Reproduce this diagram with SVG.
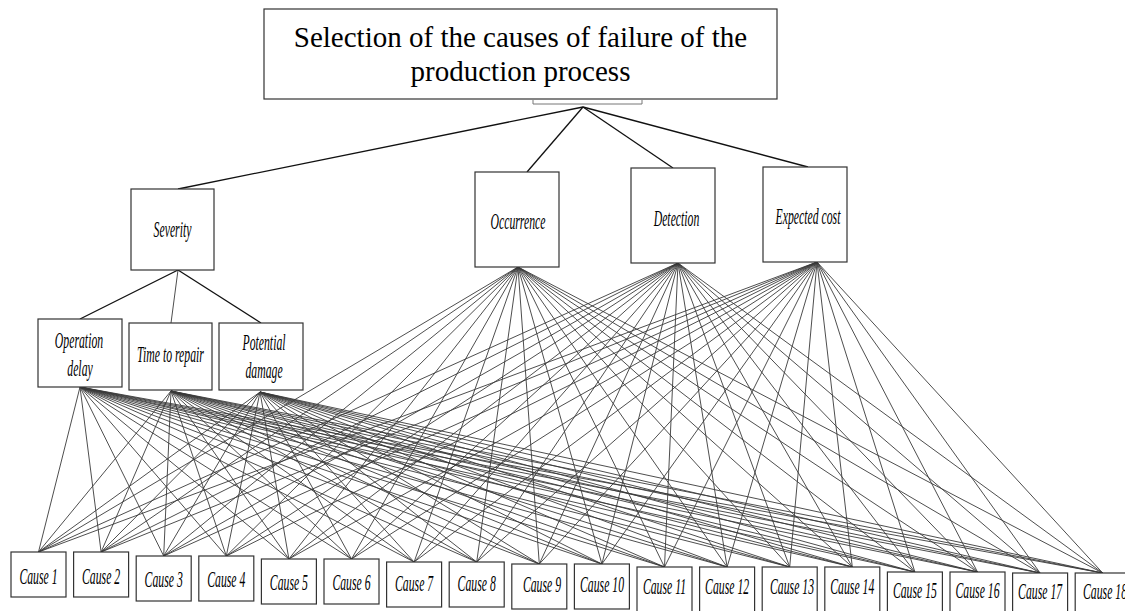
<svg xmlns="http://www.w3.org/2000/svg" width="1125" height="611" viewBox="0 0 1125 611">
<style>
.box{fill:#fff;stroke:#333;stroke-width:1.2}
.it{font-family:"Liberation Serif","Times New Roman",serif;font-style:italic;font-size:24px;fill:#000;text-anchor:middle}
.title{font-family:"Liberation Serif","Times New Roman",serif;font-size:29px;fill:#000;text-anchor:middle}
.e{stroke:#3a3a3a;stroke-width:0.9;fill:none}
.k{stroke:#111;stroke-width:1.3;fill:none}
</style>
<rect width="1125" height="611" fill="#fff"/>
<g id="connectors">
<polyline points="533,100 533,104 642,104 642,100" fill="none" stroke="#777" stroke-width="1"/>
<line class="k" x1="583" y1="107" x2="178" y2="189"/>
<line class="k" x1="583" y1="107" x2="527" y2="172"/>
<line class="k" x1="583" y1="107" x2="673" y2="168"/>
<line class="k" x1="583" y1="107" x2="808" y2="167"/>
<line class="k" x1="178" y1="270" x2="80" y2="319"/>
<line class="e" x1="178" y1="270" x2="171" y2="323"/>
<line class="k" x1="178" y1="270" x2="261" y2="323"/>
<g id="edges-operation-delay">
<line class="e" x1="80" y1="387" x2="38.5" y2="552"/>
<line class="e" x1="80" y1="387" x2="101.1" y2="552"/>
<line class="e" x1="80" y1="387" x2="163.7" y2="556"/>
<line class="e" x1="80" y1="387" x2="226.3" y2="556"/>
<line class="e" x1="80" y1="387" x2="288.9" y2="559"/>
<line class="e" x1="80" y1="387" x2="351.5" y2="559"/>
<line class="e" x1="80" y1="387" x2="414.1" y2="562"/>
<line class="e" x1="80" y1="387" x2="476.7" y2="562"/>
<line class="e" x1="80" y1="387" x2="539.3" y2="564"/>
<line class="e" x1="80" y1="387" x2="601.9" y2="564"/>
<line class="e" x1="80" y1="387" x2="664.5" y2="567"/>
<line class="e" x1="80" y1="387" x2="727.1" y2="567"/>
<line class="e" x1="80" y1="387" x2="789.7" y2="567"/>
<line class="e" x1="80" y1="387" x2="852.3" y2="567"/>
<line class="e" x1="80" y1="387" x2="914.9" y2="572"/>
<line class="e" x1="80" y1="387" x2="977.5" y2="572"/>
<line class="e" x1="80" y1="387" x2="1040.1" y2="573"/>
<line class="e" x1="80" y1="387" x2="1102.7" y2="573"/>
</g>
<g id="edges-time-to-repair">
<line class="e" x1="171" y1="391" x2="38.5" y2="552"/>
<line class="e" x1="171" y1="391" x2="101.1" y2="552"/>
<line class="e" x1="171" y1="391" x2="163.7" y2="556"/>
<line class="e" x1="171" y1="391" x2="226.3" y2="556"/>
<line class="e" x1="171" y1="391" x2="288.9" y2="559"/>
<line class="e" x1="171" y1="391" x2="351.5" y2="559"/>
<line class="e" x1="171" y1="391" x2="414.1" y2="562"/>
<line class="e" x1="171" y1="391" x2="476.7" y2="562"/>
<line class="e" x1="171" y1="391" x2="539.3" y2="564"/>
<line class="e" x1="171" y1="391" x2="601.9" y2="564"/>
<line class="e" x1="171" y1="391" x2="664.5" y2="567"/>
<line class="e" x1="171" y1="391" x2="727.1" y2="567"/>
<line class="e" x1="171" y1="391" x2="789.7" y2="567"/>
<line class="e" x1="171" y1="391" x2="852.3" y2="567"/>
<line class="e" x1="171" y1="391" x2="914.9" y2="572"/>
<line class="e" x1="171" y1="391" x2="977.5" y2="572"/>
<line class="e" x1="171" y1="391" x2="1040.1" y2="573"/>
<line class="e" x1="171" y1="391" x2="1102.7" y2="573"/>
</g>
<g id="edges-potential-damage">
<line class="e" x1="260" y1="392" x2="38.5" y2="552"/>
<line class="e" x1="260" y1="392" x2="101.1" y2="552"/>
<line class="e" x1="260" y1="392" x2="163.7" y2="556"/>
<line class="e" x1="260" y1="392" x2="226.3" y2="556"/>
<line class="e" x1="260" y1="392" x2="288.9" y2="559"/>
<line class="e" x1="260" y1="392" x2="351.5" y2="559"/>
<line class="e" x1="260" y1="392" x2="414.1" y2="562"/>
<line class="e" x1="260" y1="392" x2="476.7" y2="562"/>
<line class="e" x1="260" y1="392" x2="539.3" y2="564"/>
<line class="e" x1="260" y1="392" x2="601.9" y2="564"/>
<line class="e" x1="260" y1="392" x2="664.5" y2="567"/>
<line class="e" x1="260" y1="392" x2="727.1" y2="567"/>
<line class="e" x1="260" y1="392" x2="789.7" y2="567"/>
<line class="e" x1="260" y1="392" x2="852.3" y2="567"/>
<line class="e" x1="260" y1="392" x2="914.9" y2="572"/>
<line class="e" x1="260" y1="392" x2="977.5" y2="572"/>
<line class="e" x1="260" y1="392" x2="1040.1" y2="573"/>
<line class="e" x1="260" y1="392" x2="1102.7" y2="573"/>
</g>
<g id="edges-occurrence">
<line class="e" x1="518" y1="267" x2="38.5" y2="552"/>
<line class="e" x1="518" y1="267" x2="101.1" y2="552"/>
<line class="e" x1="518" y1="267" x2="163.7" y2="556"/>
<line class="e" x1="518" y1="267" x2="226.3" y2="556"/>
<line class="e" x1="518" y1="267" x2="288.9" y2="559"/>
<line class="e" x1="518" y1="267" x2="351.5" y2="559"/>
<line class="e" x1="518" y1="267" x2="414.1" y2="562"/>
<line class="e" x1="518" y1="267" x2="476.7" y2="562"/>
<line class="e" x1="518" y1="267" x2="539.3" y2="564"/>
<line class="e" x1="518" y1="267" x2="601.9" y2="564"/>
<line class="e" x1="518" y1="267" x2="664.5" y2="567"/>
<line class="e" x1="518" y1="267" x2="727.1" y2="567"/>
<line class="e" x1="518" y1="267" x2="789.7" y2="567"/>
<line class="e" x1="518" y1="267" x2="852.3" y2="567"/>
<line class="e" x1="518" y1="267" x2="914.9" y2="572"/>
<line class="e" x1="518" y1="267" x2="977.5" y2="572"/>
<line class="e" x1="518" y1="267" x2="1040.1" y2="573"/>
<line class="e" x1="518" y1="267" x2="1102.7" y2="573"/>
</g>
<g id="edges-detection">
<line class="e" x1="678" y1="263" x2="38.5" y2="552"/>
<line class="e" x1="678" y1="263" x2="101.1" y2="552"/>
<line class="e" x1="678" y1="263" x2="163.7" y2="556"/>
<line class="e" x1="678" y1="263" x2="226.3" y2="556"/>
<line class="e" x1="678" y1="263" x2="288.9" y2="559"/>
<line class="e" x1="678" y1="263" x2="351.5" y2="559"/>
<line class="e" x1="678" y1="263" x2="414.1" y2="562"/>
<line class="e" x1="678" y1="263" x2="476.7" y2="562"/>
<line class="e" x1="678" y1="263" x2="539.3" y2="564"/>
<line class="e" x1="678" y1="263" x2="601.9" y2="564"/>
<line class="e" x1="678" y1="263" x2="664.5" y2="567"/>
<line class="e" x1="678" y1="263" x2="727.1" y2="567"/>
<line class="e" x1="678" y1="263" x2="789.7" y2="567"/>
<line class="e" x1="678" y1="263" x2="852.3" y2="567"/>
<line class="e" x1="678" y1="263" x2="914.9" y2="572"/>
<line class="e" x1="678" y1="263" x2="977.5" y2="572"/>
<line class="e" x1="678" y1="263" x2="1040.1" y2="573"/>
<line class="e" x1="678" y1="263" x2="1102.7" y2="573"/>
</g>
<g id="edges-expected-cost">
<line class="e" x1="817" y1="262" x2="38.5" y2="552"/>
<line class="e" x1="817" y1="262" x2="101.1" y2="552"/>
<line class="e" x1="817" y1="262" x2="163.7" y2="556"/>
<line class="e" x1="817" y1="262" x2="226.3" y2="556"/>
<line class="e" x1="817" y1="262" x2="288.9" y2="559"/>
<line class="e" x1="817" y1="262" x2="351.5" y2="559"/>
<line class="e" x1="817" y1="262" x2="414.1" y2="562"/>
<line class="e" x1="817" y1="262" x2="476.7" y2="562"/>
<line class="e" x1="817" y1="262" x2="539.3" y2="564"/>
<line class="e" x1="817" y1="262" x2="601.9" y2="564"/>
<line class="e" x1="817" y1="262" x2="664.5" y2="567"/>
<line class="e" x1="817" y1="262" x2="727.1" y2="567"/>
<line class="e" x1="817" y1="262" x2="789.7" y2="567"/>
<line class="e" x1="817" y1="262" x2="852.3" y2="567"/>
<line class="e" x1="817" y1="262" x2="914.9" y2="572"/>
<line class="e" x1="817" y1="262" x2="977.5" y2="572"/>
<line class="e" x1="817" y1="262" x2="1040.1" y2="573"/>
<line class="e" x1="817" y1="262" x2="1102.7" y2="573"/>
</g>
</g>
<g id="goal">
<rect class="box" x="264" y="9" width="513" height="90"/>
<text class="title" x="520.5" y="47">Selection of the causes of failure of the</text>
<text class="title" x="520.5" y="81">production process</text>
</g>
<g id="severity">
<rect class="box" x="131" y="189" width="83" height="81"/>
<text class="it" transform="translate(172.5 237) scale(0.49 1)">Severity</text>
</g>
<g id="occurrence">
<rect class="box" x="475" y="172" width="84" height="95"/>
<text class="it" transform="translate(518 229) scale(0.49 1)">Occurrence</text>
</g>
<g id="detection">
<rect class="box" x="631" y="168" width="84" height="95"/>
<text class="it" transform="translate(676.5 226) scale(0.49 1)">Detection</text>
</g>
<g id="expected-cost">
<rect class="box" x="763" y="167" width="84" height="95"/>
<text class="it" transform="translate(808 224) scale(0.49 1)">Expected cost</text>
</g>
<g id="operation-delay">
<rect class="box" x="38" y="319" width="84" height="68"/>
<text class="it" transform="translate(79 348) scale(0.49 1)">Operation</text>
<text class="it" transform="translate(80 376) scale(0.49 1)">delay</text>
</g>
<g id="time-to-repair">
<rect class="box" x="129" y="323" width="83" height="67"/>
<text class="it" transform="translate(170.5 362) scale(0.49 1)">Time to repair</text>
</g>
<g id="potential-damage">
<rect class="box" x="219" y="323" width="84" height="67"/>
<text class="it" transform="translate(264 350) scale(0.49 1)">Potential</text>
<text class="it" transform="translate(264 378) scale(0.49 1)">damage</text>
</g>
<g id="cause-1"><rect class="box" x="11" y="552" width="55" height="45"/><text class="it" transform="translate(38.5 584) scale(0.49 1)">Cause 1</text></g>
<g id="cause-2"><rect class="box" x="73.6" y="552" width="55" height="45"/><text class="it" transform="translate(101.1 584) scale(0.49 1)">Cause 2</text></g>
<g id="cause-3"><rect class="box" x="136.2" y="556" width="55" height="45"/><text class="it" transform="translate(163.7 587) scale(0.49 1)">Cause 3</text></g>
<g id="cause-4"><rect class="box" x="198.8" y="556" width="55" height="45"/><text class="it" transform="translate(226.3 587) scale(0.49 1)">Cause 4</text></g>
<g id="cause-5"><rect class="box" x="261.4" y="559" width="55" height="45"/><text class="it" transform="translate(288.9 590) scale(0.49 1)">Cause 5</text></g>
<g id="cause-6"><rect class="box" x="324" y="559" width="55" height="45"/><text class="it" transform="translate(351.5 590) scale(0.49 1)">Cause 6</text></g>
<g id="cause-7"><rect class="box" x="386.6" y="562" width="55" height="45"/><text class="it" transform="translate(414.1 591) scale(0.49 1)">Cause 7</text></g>
<g id="cause-8"><rect class="box" x="449.2" y="562" width="55" height="45"/><text class="it" transform="translate(476.7 591) scale(0.49 1)">Cause 8</text></g>
<g id="cause-9"><rect class="box" x="511.8" y="564" width="55" height="45"/><text class="it" transform="translate(542 592) scale(0.49 1)">Cause 9</text></g>
<g id="cause-10"><rect class="box" x="574.4" y="564" width="55" height="45"/><text class="it" transform="translate(602 592) scale(0.49 1)">Cause 10</text></g>
<g id="cause-11"><rect class="box" x="637" y="567" width="55" height="45"/><text class="it" transform="translate(664.5 594) scale(0.49 1)">Cause 11</text></g>
<g id="cause-12"><rect class="box" x="699.6" y="567" width="55" height="45"/><text class="it" transform="translate(727.1 594) scale(0.49 1)">Cause 12</text></g>
<g id="cause-13"><rect class="box" x="762.2" y="567" width="55" height="45"/><text class="it" transform="translate(792 594) scale(0.49 1)">Cause 13</text></g>
<g id="cause-14"><rect class="box" x="824.8" y="567" width="55" height="45"/><text class="it" transform="translate(852.3 594) scale(0.49 1)">Cause 14</text></g>
<g id="cause-15"><rect class="box" x="887.4" y="572" width="55" height="45"/><text class="it" transform="translate(914.9 598) scale(0.49 1)">Cause 15</text></g>
<g id="cause-16"><rect class="box" x="950" y="572" width="55" height="45"/><text class="it" transform="translate(977.5 598) scale(0.49 1)">Cause 16</text></g>
<g id="cause-17"><rect class="box" x="1012.6" y="573" width="55" height="45"/><text class="it" transform="translate(1040.1 599) scale(0.49 1)">Cause 17</text></g>
<g id="cause-18"><rect class="box" x="1075.2" y="573" width="55" height="45"/><text class="it" transform="translate(1105 599) scale(0.49 1)">Cause 18</text></g>
</svg>
